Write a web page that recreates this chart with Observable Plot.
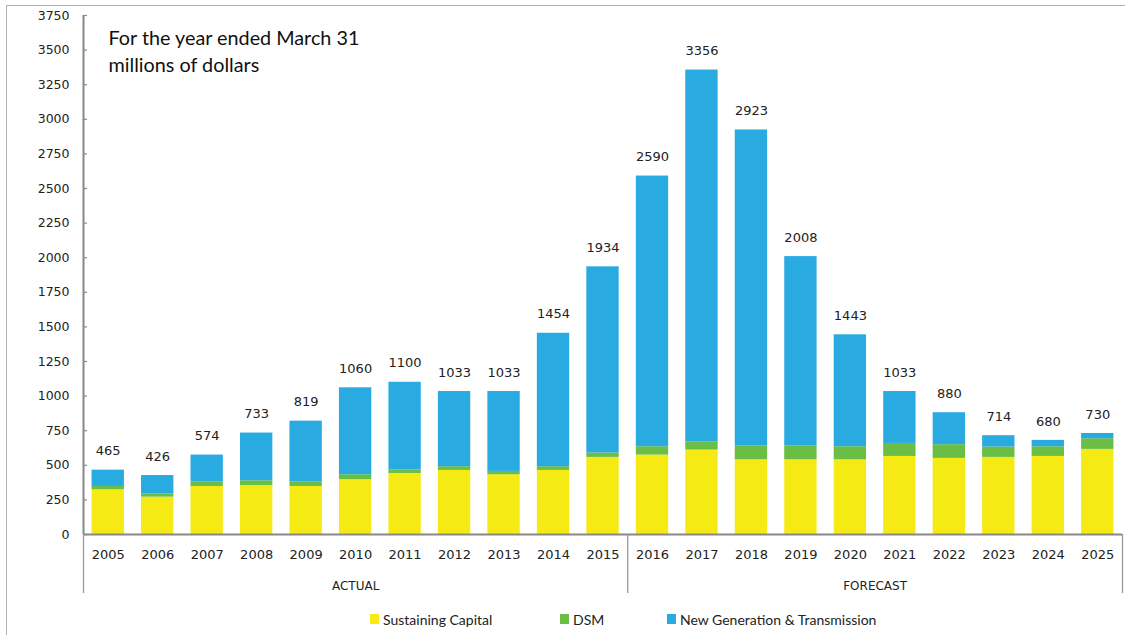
<!DOCTYPE html>
<html><head><meta charset="utf-8">
<script src="https://cdn.jsdelivr.net/npm/d3@7"></script>
<script src="https://cdn.jsdelivr.net/npm/@observablehq/plot@0.6"></script>
<style>
body{margin:0;background:#fff;}
#wrap{position:relative;width:1125px;height:635px;overflow:hidden;}
#frame{position:absolute;left:6px;top:5px;width:1200px;height:700px;border-left:1.5px solid #b3b3b3;border-top:1.5px solid #b3b3b3;pointer-events:none;}
#chart{position:absolute;left:0;top:0;}
#legend{position:absolute;left:0;top:605px;width:1125px;height:30px;font-family:Lato,sans-serif;font-size:14px;color:#222;}
.item{position:absolute;top:0;height:28px;display:flex;align-items:center;white-space:nowrap;}
.sw{width:9px;height:10px;margin-right:4px;}
</style></head>
<body>
<div id="wrap"><div id="chart"></div><div id="legend"></div><div id="frame"></div></div>
<script>
const years = [2005,2006,2007,2008,2009,2010,2011,2012,2013,2014,2015,2016,2017,2018,2019,2020,2021,2022,2023,2024,2025];
const sustaining = [323,270,347,354,347,396,441,463,432,463,557,574,610,540,540,540,564,550,557,564,615];
const dsm = [24,24,34,34,34,36,25,27,24,27,32,60,60,101,101,94,94,99,75,70,77];
const newGen = [118,132,193,345,438,628,634,543,577,964,1345,1956,2686,2282,1367,809,375,231,82,46,38];
const totals = [465,426,574,733,819,1060,1100,1033,1033,1454,1934,2590,3356,2923,2008,1443,1033,880,714,680,730];
const seriesNames = ["Sustaining Capital","DSM","New Generation & Transmission"];
const seriesColors = ["#F5EA14","#6ABD45","#29ABE2"];
const yTicks = [0,250,500,750,1000,1250,1500,1750,2000,2250,2500,2750,3000,3250,3500,3750];
const groups = [{label:"ACTUAL", from:2004.5, to:2015.5},{label:"FORECAST", from:2015.5, to:2025.5}];
const titleLines = ["For the year ended March 31\nmillions of dollars"];

const seriesValues = [sustaining, dsm, newGen];
const long = [];
years.forEach((yr,i)=>seriesNames.forEach((s,k)=>long.push({year:yr, series:s, value:seriesValues[k][i]})));
const totalRows = years.map((yr,i)=>({year:yr, total:totals[i]}));
const separators = [groups[0].from, groups[0].to, groups[1].to];
const hw = 0.327;

const chart = Plot.plot({
  width:1125, height:605,
  marginLeft:83, marginRight:3, marginTop:15, marginBottom:71,
  style:{fontFamily:"DejaVu Sans, sans-serif", fontSize:"12px", color:"#222", background:"transparent"},
  x:{type:"linear", domain:[2004.5,2025.5], label:null},
  y:{domain:[0,3750], label:null},
  color:{domain:seriesNames, range:seriesColors},
  marks:[
    Plot.rectY(long, {x1:d=>d.year-hw, x2:d=>d.year+hw, y:"value", fill:"series"}),
    Plot.text(totalRows, {x:"year", y:"total", text:d=>String(d.total), dy:-19, fontSize:13, fill:"#222"}),
    Plot.ruleX([groups[0].from], {y1:0, y2:3750, stroke:"#888", strokeWidth:2}),
    Plot.ruleY([0], {stroke:"#888", strokeWidth:2}),
    Plot.ruleY(yTicks, {x1:groups[0].from, x2:groups[0].from, insetRight:-4, stroke:"#888", strokeWidth:1.2}),
    Plot.ruleX(separators, {y1:0, y2:0, insetBottom:-59, stroke:"#999", strokeWidth:1.3}),
    Plot.axisY(yTicks, {tickSize:0, tickPadding:14, fontSize:12.5, label:null, tickFormat:d=>String(d)}),
    Plot.axisX(years, {tickSize:0, tickPadding:15, tickFormat:d=>String(d), fontSize:13, label:null}),
    Plot.text(groups, {x:d=>(d.from+d.to)/2, text:"label", frameAnchor:"bottom", dy:55, fontSize:12, fill:"#222"}),
    Plot.text(titleLines, {text:d=>d, frameAnchor:"top-left", dx:25, dy:10, lineAnchor:"top", lineHeight:1.36, textAnchor:"start", fontFamily:"Lato", fontSize:19.8, fill:"#111"})
  ]
});
document.getElementById("chart").appendChild(chart);

const legend = document.getElementById("legend");
const legendLefts = [370,560,667];
seriesNames.forEach((s,k)=>{
  const it = document.createElement("div");
  it.className="item"; it.style.left = legendLefts[k]+"px";
  it.innerHTML = `<span class="sw" style="background:${seriesColors[k]}"></span><span>${s.replace("&","&amp;")}</span>`;
  legend.appendChild(it);
});
</script>
</body></html>
